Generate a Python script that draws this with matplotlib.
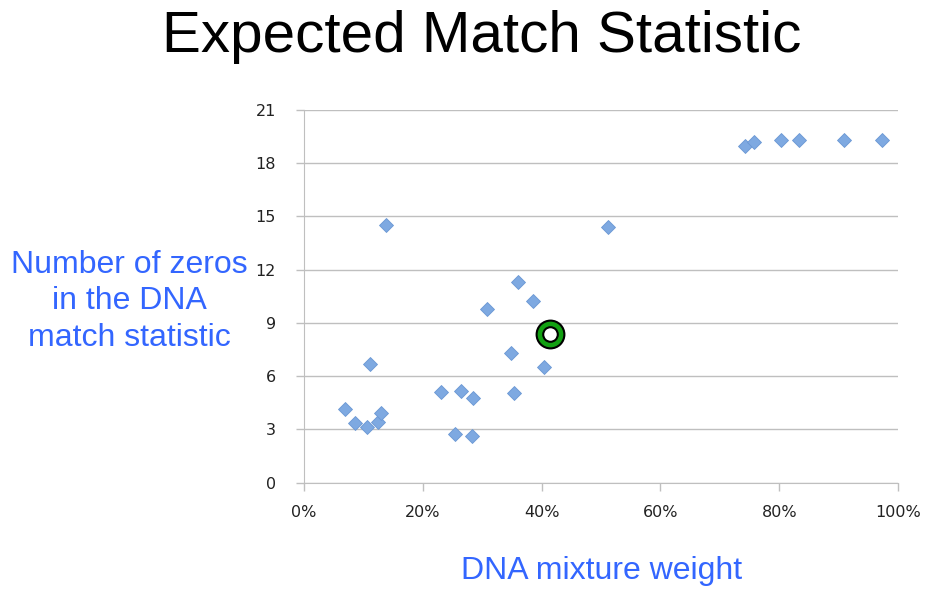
import numpy as np
import matplotlib
matplotlib.use("Agg")
import matplotlib.pyplot as plt
from matplotlib.ticker import FuncFormatter

# mixture weight (fraction) vs number of zeros in the match statistic
weight = [0.070, 0.087, 0.107, 0.125, 0.130, 0.111, 0.138,
          0.231, 0.255, 0.264, 0.285, 0.283, 0.309, 0.349,
          0.353, 0.361, 0.385, 0.404, 0.511,
          0.742, 0.757, 0.802, 0.833, 0.908, 0.972]
zeros = [4.14, 3.34, 3.14, 3.41, 3.92, 6.68, 14.50,
         5.12, 2.75, 5.15, 4.78, 2.62, 9.77, 7.31,
         5.03, 11.28, 10.23, 6.51, 14.39,
         18.96, 19.20, 19.30, 19.30, 19.30, 19.30]

# the case being highlighted
case_weight = [0.415]
case_zeros = [8.35]

yticks = [0, 3, 6, 9, 12, 15, 18, 21]
xticks = [0, 0.2, 0.4, 0.6, 0.8, 1.0]

blue_txt = '#3366FF'
grid_col = '#BFBFBF'

fig = plt.figure(figsize=(9.26, 5.90), dpi=100)
ax = fig.add_axes([0.328, 0.182, 0.642, 0.632])

ax.set_xlim(0, 1)
ax.set_ylim(0, 21)
ax.set_yticks(yticks)
ax.set_xticks(xticks)
ax.xaxis.set_major_formatter(FuncFormatter(lambda v, p: '%d%%' % round(v * 100)))

ax.grid(axis='y', color=grid_col, lw=1)
ax.set_axisbelow(True)
for s in ['top', 'right']:
    ax.spines[s].set_visible(False)
for s in ['left', 'bottom']:
    ax.spines[s].set_color(grid_col)
ax.tick_params(axis='y', length=6, width=1, color=grid_col, pad=14,
               labelsize=11.5, labelcolor='#222222')
ax.tick_params(axis='x', length=6, width=1, color=grid_col, pad=10,
               labelsize=11.5, labelcolor='#222222')

ax.plot(weight, zeros, linestyle='none', marker='D', markersize=6.8,
        markerfacecolor='#7EA9E1', markeredgecolor='#6A97D4',
        markeredgewidth=0.6, zorder=3)

# green "O" marker
ax.plot(case_weight, case_zeros, linestyle='none', marker='o',
        markersize=20, markerfacecolor='#12A012', markeredgecolor='black',
        markeredgewidth=1.5, zorder=4)
ax.plot(case_weight, case_zeros, linestyle='none', marker='o',
        markersize=10.5, markerfacecolor='white', markeredgecolor='black',
        markeredgewidth=1.5, zorder=5)

fig.text(0.52, 0.937, 'Expected Match Statistic', ha='center', va='center',
         fontsize=42, family='Liberation Sans', color='black')
fig.text(0.140, 0.489, 'Number of zeros\nin the DNA\nmatch statistic',
         ha='center', va='center', fontsize=23, family='Liberation Sans',
         color=blue_txt, linespacing=1.28)
fig.text(0.65, 0.033, 'DNA mixture weight', ha='center', va='center',
         fontsize=23, family='Liberation Sans', color=blue_txt)

fig.savefig('out.png', dpi=100)
